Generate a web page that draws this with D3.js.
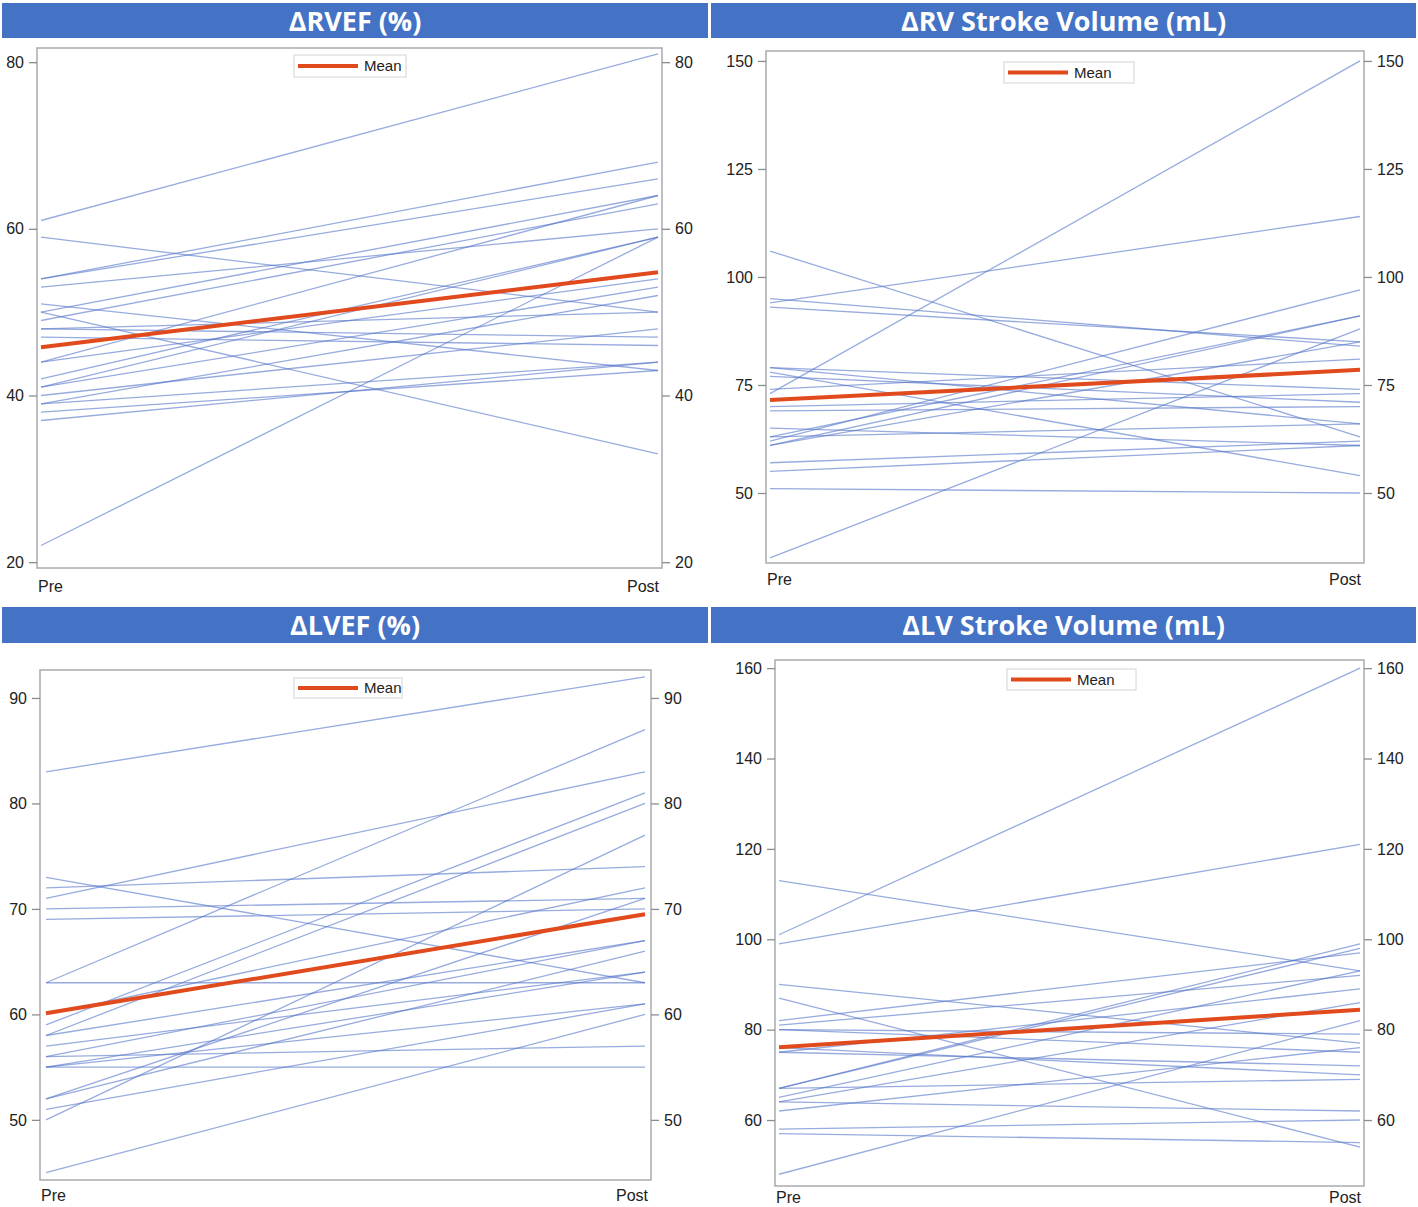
<!DOCTYPE html>
<html lang="en">
<head>
  <meta charset="UTF-8"/>
  <title>Pre / Post change panels</title>
  <style>
    *{margin:0;padding:0;box-sizing:border-box}
    body{background:#fff;font-family:"Liberation Sans",Arial,sans-serif}
    svg text{fill:#222}
    .bar-title{font-family:"Open Sans",sans-serif;font-weight:700;fill:#fff}
  </style>
</head>
<body>
  <svg id="chart" width="1418" height="1207"></svg>

  <script src="https://d3js.org/d3.v7.min.js"></script>
  <script>
    // time points
    const timepoints = ['Pre', 'Post'];

    // ΔRVEF (%) – one entry per patient
    const rvefPre  = [61, 59, 54, 54, 53, 51, 50, 50, 49, 48, 48, 47, 44, 44, 42, 41, 41, 40, 39, 39, 38, 37, 22];
    const rvefPost = [81, 50, 68, 66, 60, 43, 33, 64, 63, 50, 47, 46, 64, 54, 59, 59, 53, 48, 52, 44, 43, 44, 59];
    const rvefMean = [45.8, 54.8];
    const rvefTicks = [20, 40, 60, 80];

    // ΔRV stroke volume (mL)
    const rvsvPre  = [106, 95, 94, 93, 79, 79, 78, 77, 74, 73, 70, 69, 65, 63, 63, 62, 61, 61, 57, 55, 51, 35];
    const rvsvPost = [63, 84, 114, 85, 74, 66, 54, 71, 81, 150, 73, 70, 61, 91, 66, 97, 91, 85, 62, 61, 50, 88];
    const rvsvMean = [71.5, 78.5];
    const rvsvTicks = [50, 75, 100, 125, 150];

    // ΔLVEF (%)
    const lvefPre  = [83, 73, 72, 71, 70, 69, 63, 63, 60, 59, 58, 58, 57, 56, 56, 55, 55, 55, 52, 52, 51, 50, 45];
    const lvefPost = [92, 63, 74, 83, 71, 70, 87, 63, 72, 81, 67, 80, 64, 57, 67, 55, 64, 61, 71, 66, 61, 77, 60];
    const lvefMean = [60.1, 69.5];
    const lvefTicks = [50, 60, 70, 80, 90];

    // ΔLV stroke volume (mL)
    const lvsvPre  = [113, 101, 99, 90, 87, 82, 81, 80, 80, 76, 75, 75, 67, 67, 67, 65, 64, 64, 62, 58, 57, 48];
    const lvsvPost = [93, 160, 121, 77, 54, 97, 92, 79, 75, 70, 89, 72, 99, 98, 69, 93, 86, 62, 76, 60, 55, 82];
    const lvsvMean = [76.1, 84.4];
    const lvsvTicks = [60, 80, 100, 120, 140, 160];

    const colors = { bar:'#4472C4', line:'#5273c8', mean:'#E04A1C', frame:'#a8abae', tick:'#8a8d90' };

    const svg = d3.select('#chart');

    // layout of the four panels (pixel boxes), data hooked in from the arrays above
    const panels = [
      { title:'ΔRVEF (%)', pre:rvefPre, post:rvefPost, mean:rvefMean, ticks:rvefTicks,
        bar:[2, 3, 706, 35], frame:[37, 48, 662, 568], dom:[19.3, 81.7], inset:4,
        legend:[294, 55, 112, 22], labelY:592 },
      { title:'ΔRV Stroke Volume (mL)', pre:rvsvPre, post:rvsvPost, mean:rvsvMean, ticks:rvsvTicks,
        bar:[711, 3, 705, 35], frame:[766, 51, 1364, 563], dom:[33.8, 152.3], inset:4,
        legend:[1004, 62, 130, 21], labelY:585 },
      { title:'ΔLVEF (%)', pre:lvefPre, post:lvefPost, mean:lvefMean, ticks:lvefTicks,
        bar:[2, 607, 706, 36], frame:[40, 670, 651, 1180], dom:[44.3, 92.65], inset:6,
        legend:[294, 678, 108, 20], labelY:1201 },
      { title:'ΔLV Stroke Volume (mL)', pre:lvsvPre, post:lvsvPost, mean:lvsvMean, ticks:lvsvTicks,
        bar:[711, 607, 705, 36], frame:[775, 660, 1364, 1186], dom:[45.4, 161.8], inset:4,
        legend:[1007, 669, 129, 21], labelY:1203 }
    ];

    panels.forEach(drawPanel);

    function drawPanel(p){
      const [x0, y0, x1, y1] = p.frame;

      // title bar
      svg.append('rect')
        .attr('x', p.bar[0]).attr('y', p.bar[1])
        .attr('width', p.bar[2]).attr('height', p.bar[3])
        .attr('fill', colors.bar);
      svg.append('text').attr('class', 'bar-title')
        .attr('x', p.bar[0] + p.bar[2] / 2).attr('y', p.bar[1] + p.bar[3] / 2 + 3)
        .attr('text-anchor', 'middle').attr('dominant-baseline', 'middle')
        .attr('font-size', 27)
        .text(p.title);

      const x = d3.scalePoint().domain(timepoints).range([x0 + p.inset, x1 - p.inset]);
      const y = d3.scaleLinear().domain(p.dom).range([y1, y0]);

      const g = svg.append('g');

      // patient lines
      const rows = p.pre.map((v, i) => [v, p.post[i]]);
      g.selectAll('line.subj')
        .data(rows)
        .join('line')
        .attr('class', 'subj')
        .attr('x1', x('Pre')).attr('x2', x('Post'))
        .attr('y1', d => y(d[0])).attr('y2', d => y(d[1]))
        .attr('stroke', colors.line)
        .attr('stroke-opacity', 0.6)
        .attr('stroke-width', 1.3);

      // mean line
      g.append('line')
        .attr('x1', x('Pre')).attr('x2', x('Post'))
        .attr('y1', y(p.mean[0])).attr('y2', y(p.mean[1]))
        .attr('stroke', colors.mean)
        .attr('stroke-width', 4);

      // frame
      g.append('rect')
        .attr('x', x0).attr('y', y0)
        .attr('width', x1 - x0).attr('height', y1 - y0)
        .attr('fill', 'none').attr('stroke', colors.frame).attr('stroke-width', 1.5);

      // y axes on both sides
      const left = g.append('g').attr('transform', `translate(${x0},0)`)
        .call(d3.axisLeft(y).tickValues(p.ticks).tickSize(8).tickPadding(5));
      const right = g.append('g').attr('transform', `translate(${x1},0)`)
        .call(d3.axisRight(y).tickValues(p.ticks).tickSize(8).tickPadding(5));
      [left, right].forEach(a => {
        a.select('.domain').remove();
        a.selectAll('.tick line').attr('stroke', colors.tick).attr('stroke-width', 1.3);
        a.selectAll('.tick text')
          .attr('font-family', '"Liberation Sans",Arial,sans-serif')
          .attr('font-size', 16).attr('fill', '#222');
      });

      // Pre / Post labels under the frame
      g.append('text')
        .attr('x', x0 + 1).attr('y', p.labelY)
        .attr('font-size', 16).attr('text-anchor', 'start')
        .text(timepoints[0]);
      g.append('text')
        .attr('x', x1 - 3).attr('y', p.labelY)
        .attr('font-size', 16).attr('text-anchor', 'end')
        .text(timepoints[1]);

      // legend
      const [lx, ly, lw, lh] = p.legend;
      const lg = g.append('g');
      lg.append('rect')
        .attr('x', lx).attr('y', ly).attr('width', lw).attr('height', lh)
        .attr('fill', '#fff').attr('stroke', '#d4d4d4');
      lg.append('line')
        .attr('x1', lx + 4).attr('x2', lx + 64)
        .attr('y1', ly + lh / 2).attr('y2', ly + lh / 2)
        .attr('stroke', colors.mean).attr('stroke-width', 4);
      lg.append('text')
        .attr('x', lx + 70).attr('y', ly + lh / 2 + 5)
        .attr('font-size', 15)
        .text('Mean');
    }
  </script>
</body>
</html>
